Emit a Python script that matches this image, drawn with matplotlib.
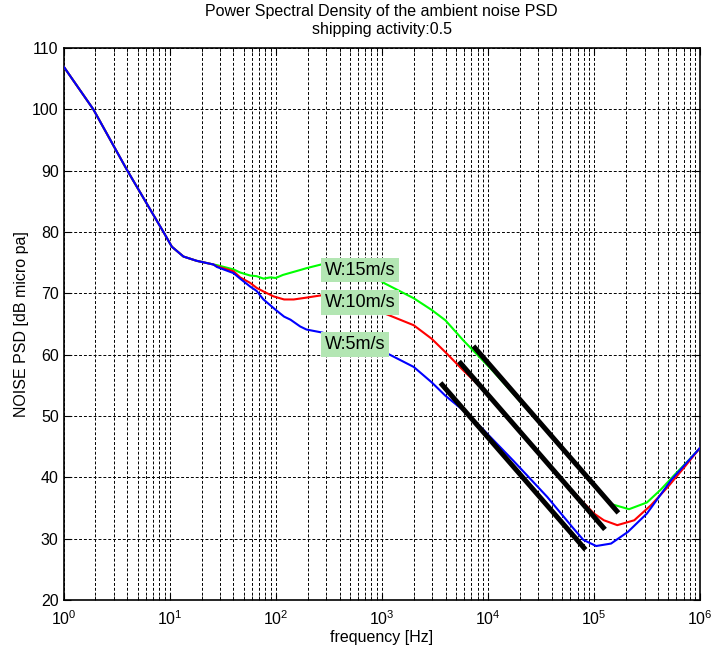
import math

import matplotlib

matplotlib.use("Agg")
import matplotlib.pyplot as plt
from matplotlib.ticker import FixedLocator, FuncFormatter, LogLocator, NullFormatter

plt.rcParams["font.family"] = ["Liberation Sans", "DejaVu Sans"]
plt.rcParams["mathtext.fontset"] = "custom"
plt.rcParams["mathtext.rm"] = "Liberation Sans"
plt.rcParams["mathtext.it"] = "Liberation Sans:italic"

# curves (frequency in Hz, level in dB re 1 uPa)
freq_common = [1, 1.91, 4.0, 8.75, 10.5, 13.5, 18, 25.9]
psd_common = [107.0, 100.0, 90.0, 80.0, 77.6, 76.0, 75.3, 74.7]

freq_w5 = [27.9, 40, 46.2, 57.5, 66, 76.7, 95.5, 100, 120, 138, 170, 195, 275,
           562, 1070, 2000, 2950, 3980, 5890, 8910, 17400, 36300, 63100, 79400,
           105000, 145000, 209000, 316000, 537000, 1000000]
psd_w5 = [74.3, 73.3, 72.4, 71.1, 70.4, 69.0, 67.6, 67.3, 66.2, 65.7, 64.6, 64.1, 63.6,
          62.0, 60.4, 58.0, 55.5, 53.3, 50.9, 47.9, 42.7, 36.8, 31.8, 29.8,
          28.8, 29.2, 31.1, 34.1, 39.6, 44.8]

freq_w10 = [27.9, 40, 46.2, 57.5, 66, 76.7, 95.5, 120, 148, 195, 275, 447, 708,
            1070, 2000, 2950, 3980, 5890, 8910, 14100, 31600, 63100, 100000,
            124000, 166000, 240000, 347000, 501000, 708000, 1000000]
psd_w10 = [74.4, 73.6, 72.6, 71.7, 70.9, 70.3, 69.5, 69.0, 69.0, 69.3, 69.7, 69.5, 68.3,
           66.7, 64.8, 62.6, 60.4, 57.4, 54.4, 50.3, 43.5, 37.7, 34.1,
           33.0, 32.2, 33.0, 35.5, 38.5, 41.6, 44.8]

freq_w15 = [27.9, 40, 46.2, 57.5, 66, 76.7, 89, 100, 117, 170, 195, 275, 447, 708,
            1070, 2000, 2950, 3980, 5890, 8910, 11200, 31600, 63100, 100000,
            148000, 214000, 316000, 427000, 575000, 794000, 1000000]
psd_w15 = [74.6, 73.9, 73.4, 72.9, 72.8, 72.4, 72.6, 72.5, 73.0, 73.8, 74.1, 74.75, 74.8, 73.6,
           71.6, 69.2, 67.3, 65.6, 62.3, 59.1, 57.3, 48.6, 42.7, 38.6,
           35.6, 34.8, 35.9, 38.0, 40.4, 42.9, 44.8]

# -20 dB/decade guide lines (start, end)
guide_freq = [(7310, 170000), (5350, 127000), (3580, 83400)]
guide_psd = [(61.4, 34.2), (58.9, 31.5), (55.4, 28.2)]

label_text = ["W:15m/s", "W:10m/s", "W:5m/s"]
label_x = [290, 290, 290]
label_y = [73.8, 68.5, 61.7]

y_ticks = [20, 30, 40, 50, 60, 70, 80, 90, 100, 110]

fig = plt.figure(figsize=(7.13, 6.55), dpi=100)
ax = fig.add_axes([0.0891, 0.084, 0.8927, 0.8427])

ax.plot(freq_common + freq_w15, psd_common + psd_w15, color="#00ff00", lw=1.5, zorder=3)
ax.plot(freq_common + freq_w10, psd_common + psd_w10, color="#ff0000", lw=1.5, zorder=4)
ax.plot(freq_common + freq_w5, psd_common + psd_w5, color="#0000ff", lw=1.5, zorder=5)

for fx, py in zip(guide_freq, guide_psd):
    ax.plot(fx, py, color="black", lw=3.6, solid_capstyle="butt", zorder=6)

for txt, tx, ty in zip(label_text, label_x, label_y):
    ax.text(tx, ty, txt, fontsize=13, ha="left", va="center", zorder=7,
            bbox=dict(facecolor="#b3e6b3", edgecolor="none", boxstyle="square,pad=0.22"))

ax.set_xscale("log")
ax.set_xlim(1, 1e6)
ax.set_ylim(20, 110)
ax.yaxis.set_major_locator(FixedLocator(y_ticks))
ax.xaxis.set_major_locator(LogLocator(base=10, numticks=10))
ax.xaxis.set_minor_locator(LogLocator(base=10, subs=range(2, 10), numticks=20))
ax.xaxis.set_minor_formatter(NullFormatter())
ax.xaxis.set_major_formatter(FuncFormatter(lambda v, p: r"$\mathdefault{10^{%d}}$" % round(math.log10(v))))

grid_style = dict(color="black", linestyle=(0, (3, 2)), linewidth=0.7)
ax.grid(True, which="major", axis="both", **grid_style)
ax.grid(True, which="minor", axis="x", **grid_style)

ax.tick_params(which="both", direction="in", labelsize=11.5, top=True, right=True)
ax.tick_params(which="major", length=5)
ax.tick_params(which="minor", length=3)
ax.tick_params(axis="x", pad=7)
for sp in ax.spines.values():
    sp.set_linewidth(1.2)

ax.set_xlabel("frequency [Hz]", fontsize=11.5, labelpad=1)
ax.set_ylabel("NOISE PSD [dB micro pa]", fontsize=11.5, labelpad=2)
ax.set_title("Power Spectral Density of the ambient noise PSD\nshipping activity:0.5",
             fontsize=11.5, pad=10, linespacing=1.3)

fig.savefig("out.png", dpi=100)
